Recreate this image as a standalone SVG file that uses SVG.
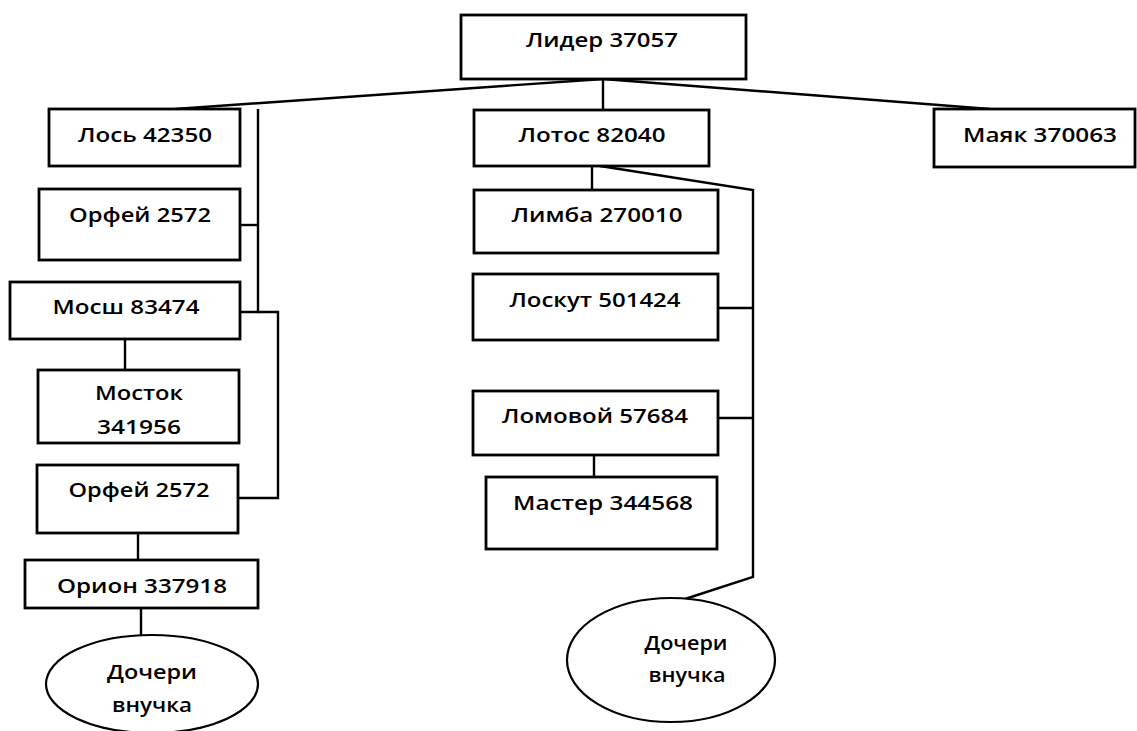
<svg xmlns="http://www.w3.org/2000/svg" width="1137" height="731" viewBox="0 0 1137 731">
<style>
.box{fill:#fff;stroke:#000;stroke-width:2.8}
.ell{fill:#fff;stroke:#000;stroke-width:2.2}
.ln{fill:none;stroke:#000;stroke-width:2.4}
text{font-family:"Open Sans","DejaVu Sans",sans-serif;font-size:20px;font-weight:600;fill:#000;text-anchor:middle}
</style>
<rect width="1137" height="731" fill="#fff"/>
<g id="connectors">
<line class="ln" x1="603" y1="79" x2="603" y2="110"/>
<line class="ln" x1="603" y1="79" x2="175" y2="109"/>
<line class="ln" x1="603" y1="79" x2="990" y2="109"/>
<polyline class="ln" points="258,109 258,312 240,312"/>
<line class="ln" x1="240" y1="225" x2="258" y2="225"/>
<polyline class="ln" points="258,312 278,312 278,498 238,498"/>
<line class="ln" x1="125" y1="339" x2="125" y2="370"/>
<line class="ln" x1="138" y1="533" x2="138" y2="560"/>
<line class="ln" x1="141" y1="608" x2="141" y2="635"/>
<line class="ln" x1="592" y1="166" x2="592" y2="190"/>
<polyline class="ln" points="600,166 753,190 753,577 685,599"/>
<line class="ln" x1="718" y1="308" x2="753" y2="308"/>
<line class="ln" x1="718" y1="418" x2="753" y2="418"/>
<line class="ln" x1="594" y1="455" x2="594" y2="477"/>
</g>
<g id="lider"><rect class="box" x="461" y="15" width="285" height="64"/><text x="602" y="47" textLength="152" lengthAdjust="spacingAndGlyphs">Лидер 37057</text></g>
<g id="los"><rect class="box" x="49" y="109" width="191" height="57"/><text x="145" y="142" textLength="134" lengthAdjust="spacingAndGlyphs">Лось 42350</text></g>
<g id="orfey1"><rect class="box" x="39" y="189" width="201" height="71"/><text x="140" y="222" textLength="142" lengthAdjust="spacingAndGlyphs">Орфей 2572</text></g>
<g id="mosh"><rect class="box" x="10" y="282" width="230" height="57"/><text x="126" y="314" textLength="147" lengthAdjust="spacingAndGlyphs">Мосш 83474</text></g>
<g id="mostok"><rect class="box" x="38" y="370" width="201" height="73"/><text x="139" y="400" textLength="88" lengthAdjust="spacingAndGlyphs">Мосток</text><text x="139" y="434" textLength="84" lengthAdjust="spacingAndGlyphs">341956</text></g>
<g id="orfey2"><rect class="box" x="37" y="465" width="201" height="68"/><text x="139" y="497" textLength="141" lengthAdjust="spacingAndGlyphs">Орфей 2572</text></g>
<g id="orion"><rect class="box" x="25" y="560" width="233" height="48"/><text x="142" y="593" textLength="170" lengthAdjust="spacingAndGlyphs">Орион 337918</text></g>
<g id="docheri1"><ellipse class="ell" cx="152" cy="684" rx="106" ry="49"/><text x="152" y="679" textLength="90" lengthAdjust="spacingAndGlyphs">Дочери</text><text x="152" y="712" textLength="80" lengthAdjust="spacingAndGlyphs">внучка</text></g>
<g id="lotos"><rect class="box" x="474" y="110" width="235" height="56"/><text x="592" y="142" textLength="147" lengthAdjust="spacingAndGlyphs">Лотос 82040</text></g>
<g id="limba"><rect class="box" x="474" y="190" width="244" height="63"/><text x="597" y="222" textLength="171" lengthAdjust="spacingAndGlyphs">Лимба 270010</text></g>
<g id="loskut"><rect class="box" x="473" y="274" width="245" height="66"/><text x="595" y="307" textLength="171" lengthAdjust="spacingAndGlyphs">Лоскут 501424</text></g>
<g id="lomovoy"><rect class="box" x="473" y="391" width="245" height="64"/><text x="595" y="423" textLength="186" lengthAdjust="spacingAndGlyphs">Ломовой 57684</text></g>
<g id="master"><rect class="box" x="486" y="477" width="231" height="72"/><text x="603" y="510" textLength="180" lengthAdjust="spacingAndGlyphs">Мастер 344568</text></g>
<g id="docheri2"><ellipse class="ell" cx="671" cy="660" rx="104" ry="62"/><text x="686" y="650" textLength="83" lengthAdjust="spacingAndGlyphs">Дочери</text><text x="687" y="682" textLength="77" lengthAdjust="spacingAndGlyphs">внучка</text></g>
<g id="mayak"><rect class="box" x="934" y="109" width="201" height="58"/><text x="1040" y="142" textLength="154" lengthAdjust="spacingAndGlyphs">Маяк 370063</text></g>
</svg>
